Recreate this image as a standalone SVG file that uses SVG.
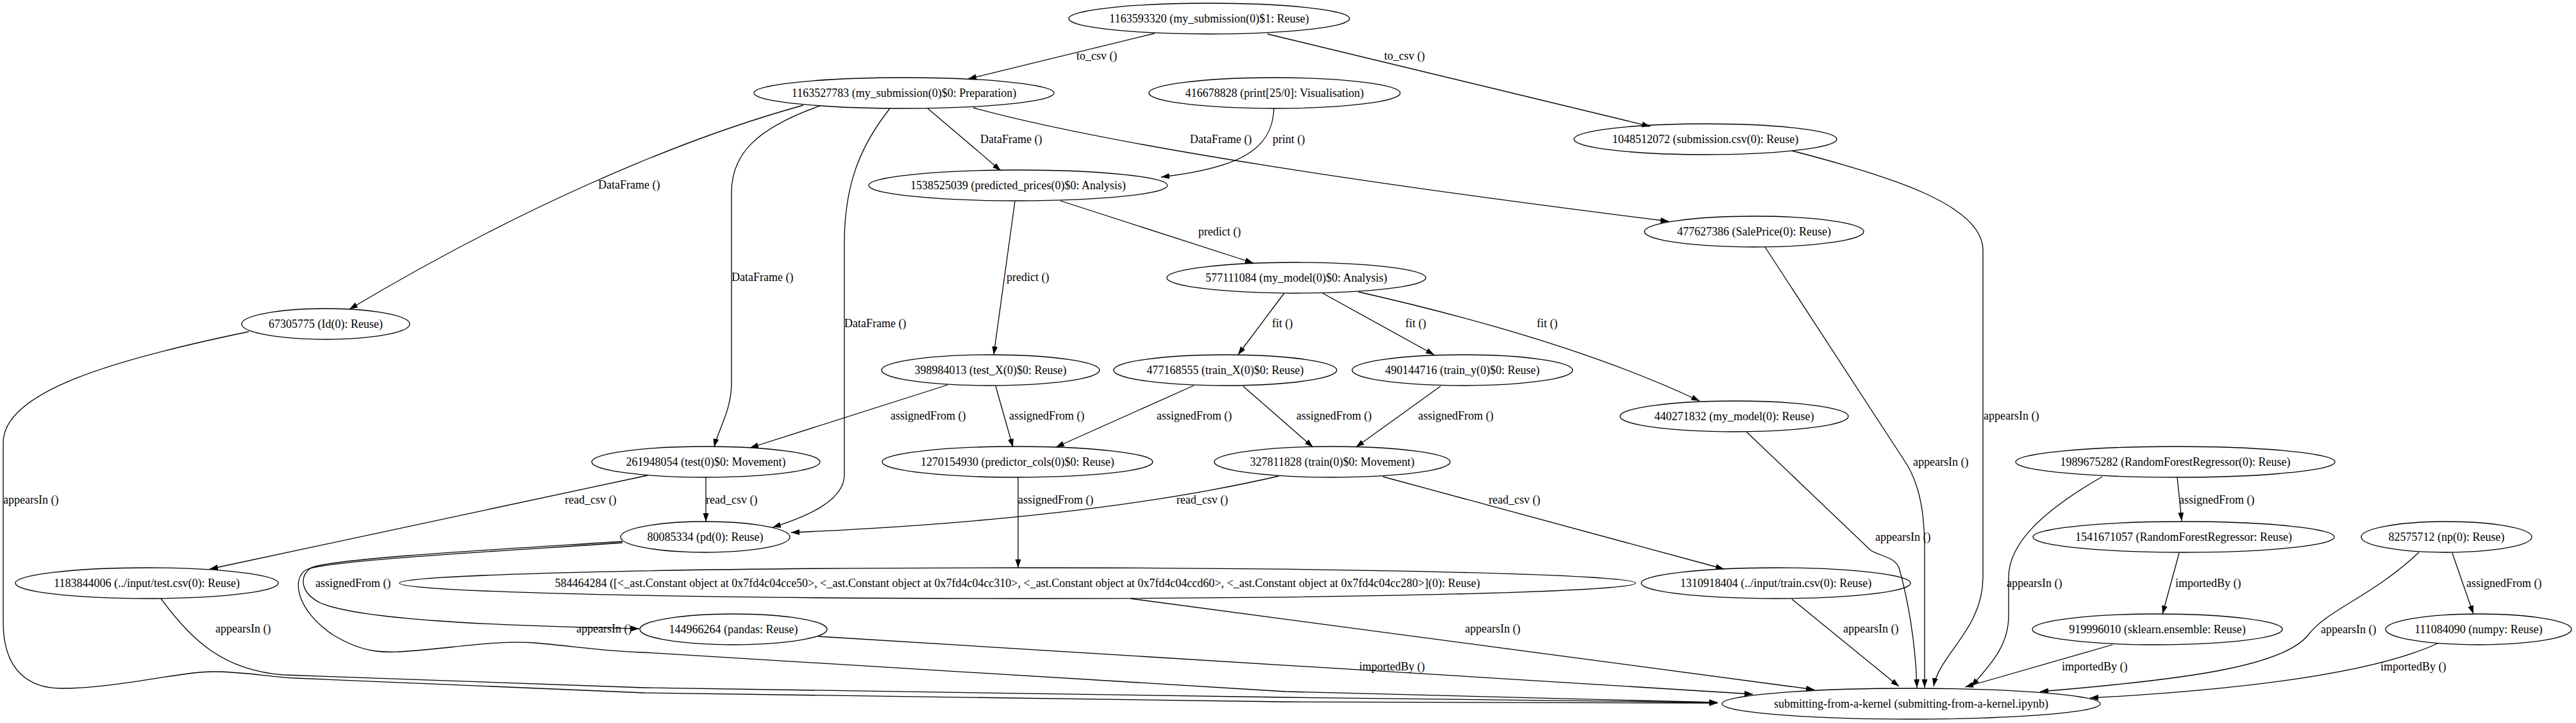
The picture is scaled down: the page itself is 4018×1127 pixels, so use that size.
<svg xmlns="http://www.w3.org/2000/svg" width="4018" height="1127" viewBox="0 0 4018 1127">
<style>
text{font-family:"Liberation Serif","Times New Roman",serif;font-size:18px;fill:#000}
.n ellipse{fill:none;stroke:#000;stroke-width:1.3}
.n text{text-anchor:middle}
.e path{fill:none;stroke:#000;stroke-width:1.3;marker-end:url(#a)}
</style>
<defs>
<marker id="a" markerWidth="13" markerHeight="10" refX="13" refY="5" orient="auto" markerUnits="userSpaceOnUse"><path d="M0,0.5 L13,5 L0,9.5 z" fill="#000"/></marker>
</defs>
<rect width="4018" height="1127" fill="#fff"/>
<g id="connectors" class="e">
<path d="M1801,52 L1510,123"/>
<path d="M1977,53 L2574,197"/>
<path d="M1253,164 C1050,220 800,330 545,482"/>
<path d="M1279,165 C1180,200 1141,240 1141,300 L1141,597 C1141,640 1120,670 1114,697"/>
<path d="M1388,169 C1340,230 1317,290 1317,380 L1317,740 C1317,780 1260,805 1205,822"/>
<path d="M1447,169 L1561,266"/>
<path d="M1518,168 Q1800,245 2603,345"/>
<path d="M1987,169 C1985,235 1930,262 1811,276"/>
<path d="M2795,235 C2950,275 3093,320 3093,390 L3093,900 C3093,980 3025,1020 3016,1070"/>
<path d="M1583,314 L1550,553"/>
<path d="M1654,313 L1955,410"/>
<path d="M2753,385 L2975,725 C2995,760 3002,800 3002,860 L3002,1072"/>
<path d="M2003,457 L1931,553"/>
<path d="M2063,457 L2237,553"/>
<path d="M2119,455 Q2450,530 2651,625"/>
<path d="M388,517 C180,560 5,610 5,690 L5,970 C5,1050 50,1073 96,1073 C180,1073 280,1047 333,1047 C380,1047 420,1055 460,1057 L1005,1080 L2005,1094 L2679,1096"/>
<path d="M1478,600 L1170,698"/>
<path d="M1553,602 L1580,697"/>
<path d="M1862,601 L1647,697"/>
<path d="M1939,602 L2048,697"/>
<path d="M2247,602 L2115,697"/>
<path d="M2724,673 L2918,858 C2935,868 2955,868 2962,885 C2975,930 2988,1000 2990,1072"/>
<path d="M1010,741 L327,887"/>
<path d="M1101,744 L1101,813"/>
<path d="M1588,744 L1588,885"/>
<path d="M1995,742 Q1700,810 1234,830"/>
<path d="M2157,743 L2689,887"/>
<path d="M3396,744 L3403,812"/>
<path d="M3279,743 C3180,800 3133,850 3133,900 L3133,960 C3133,1010 3100,1040 3075,1070"/>
<path d="M971,844 C800,855 520,870 485,885 C465,900 470,925 500,940 C560,965 750,975 997,980"/>
<path d="M971,846 C800,858 510,873 478,888 C455,900 460,950 520,990 C570,1020 600,1018 650,1014 C720,1008 780,998 833,1002 C900,1008 950,1016 1005,1017 L2005,1078 L2679,1095"/>
<path d="M251,933 C300,1000 350,1045 442,1052 L1005,1072 L2005,1087 L2679,1095"/>
<path d="M1763,933 L2830,1075"/>
<path d="M2795,934 L2962,1070"/>
<path d="M3399,862 L3373,957"/>
<path d="M3825,862 L3858,957"/>
<path d="M3773,861 C3700,930 3630,950 3600,990 C3560,1040 3400,1060 3182,1078"/>
<path d="M1276,992 L2734,1082"/>
<path d="M3295,1005 L3065,1071"/>
<path d="M3802,1003 C3700,1050 3500,1075 3260,1088"/>
</g>
<g id="edge-labels">
<text x="1679" y="93">to_csv ()</text>
<text x="2159" y="93">to_csv ()</text>
<text x="933" y="294">DataFrame ()</text>
<text x="1141" y="438">DataFrame ()</text>
<text x="1317" y="510">DataFrame ()</text>
<text x="1529" y="223">DataFrame ()</text>
<text x="1856" y="223">DataFrame ()</text>
<text x="1985" y="223">print ()</text>
<text x="3094" y="654">appearsIn ()</text>
<text x="1570" y="438">predict ()</text>
<text x="1869" y="367">predict ()</text>
<text x="2984" y="726">appearsIn ()</text>
<text x="1984" y="510">fit ()</text>
<text x="2192" y="510">fit ()</text>
<text x="2397" y="510">fit ()</text>
<text x="5" y="785">appearsIn ()</text>
<text x="1389" y="654">assignedFrom ()</text>
<text x="1574" y="654">assignedFrom ()</text>
<text x="1804" y="654">assignedFrom ()</text>
<text x="2022" y="654">assignedFrom ()</text>
<text x="2212" y="654">assignedFrom ()</text>
<text x="2925" y="843">appearsIn ()</text>
<text x="881" y="785">read_csv ()</text>
<text x="1101" y="785">read_csv ()</text>
<text x="1588" y="785">assignedFrom ()</text>
<text x="1835" y="785">read_csv ()</text>
<text x="2322" y="785">read_csv ()</text>
<text x="3399" y="785">assignedFrom ()</text>
<text x="3130" y="915">appearsIn ()</text>
<text x="492" y="915">assignedFrom ()</text>
<text x="899" y="986">appearsIn ()</text>
<text x="336" y="986">appearsIn ()</text>
<text x="2285" y="986">appearsIn ()</text>
<text x="2875" y="986">appearsIn ()</text>
<text x="3393" y="915">importedBy ()</text>
<text x="3847" y="915">assignedFrom ()</text>
<text x="3620" y="987">appearsIn ()</text>
<text x="2120" y="1045">importedBy ()</text>
<text x="3216" y="1045">importedBy ()</text>
<text x="3713" y="1045">importedBy ()</text>
</g>
<g id="n1" class="n"><ellipse cx="1886" cy="29" rx="219" ry="24"/><text x="1886" y="35">1163593320 (my_submission(0)$1: Reuse)</text></g>
<g id="n2" class="n"><ellipse cx="1410" cy="145" rx="234" ry="24"/><text x="1410" y="151">1163527783 (my_submission(0)$0: Preparation)</text></g>
<g id="n3" class="n"><ellipse cx="1988" cy="145" rx="196" ry="24"/><text x="1988" y="151">416678828 (print[25/0]: Visualisation)</text></g>
<g id="n4" class="n"><ellipse cx="2660" cy="217" rx="205" ry="24"/><text x="2660" y="223">1048512072 (submission.csv(0): Reuse)</text></g>
<g id="n5" class="n"><ellipse cx="1588" cy="289" rx="233" ry="24"/><text x="1588" y="295">1538525039 (predicted_prices(0)$0: Analysis)</text></g>
<g id="n6" class="n"><ellipse cx="2736" cy="361" rx="171" ry="24"/><text x="2736" y="367">477627386 (SalePrice(0): Reuse)</text></g>
<g id="n7" class="n"><ellipse cx="2022" cy="433" rx="202" ry="24"/><text x="2022" y="439">577111084 (my_model(0)$0: Analysis)</text></g>
<g id="n8" class="n"><ellipse cx="508" cy="505" rx="131" ry="24"/><text x="508" y="511">67305775 (Id(0): Reuse)</text></g>
<g id="n9" class="n"><ellipse cx="1545" cy="577" rx="170" ry="24"/><text x="1545" y="583">398984013 (test_X(0)$0: Reuse)</text></g>
<g id="n10" class="n"><ellipse cx="1911" cy="577" rx="174" ry="24"/><text x="1911" y="583">477168555 (train_X(0)$0: Reuse)</text></g>
<g id="n11" class="n"><ellipse cx="2281" cy="577" rx="172" ry="24"/><text x="2281" y="583">490144716 (train_y(0)$0: Reuse)</text></g>
<g id="n12" class="n"><ellipse cx="2705" cy="649" rx="178" ry="24"/><text x="2705" y="655">440271832 (my_model(0): Reuse)</text></g>
<g id="n13" class="n"><ellipse cx="1101" cy="720" rx="178" ry="24"/><text x="1101" y="726">261948054 (test(0)$0: Movement)</text></g>
<g id="n14" class="n"><ellipse cx="1587" cy="720" rx="211" ry="24"/><text x="1587" y="726">1270154930 (predictor_cols(0)$0: Reuse)</text></g>
<g id="n15" class="n"><ellipse cx="2078" cy="720" rx="184" ry="24"/><text x="2078" y="726">327811828 (train(0)$0: Movement)</text></g>
<g id="n16" class="n"><ellipse cx="3393" cy="720" rx="249" ry="24"/><text x="3393" y="726">1989675282 (RandomForestRegressor(0): Reuse)</text></g>
<g id="n17" class="n"><ellipse cx="1100" cy="837" rx="132" ry="24"/><text x="1100" y="843">80085334 (pd(0): Reuse)</text></g>
<g id="n18" class="n"><ellipse cx="229" cy="909" rx="205" ry="24"/><text x="229" y="915">1183844006 (../input/test.csv(0): Reuse)</text></g>
<g id="n19" class="n"><ellipse cx="1587" cy="909" rx="964" ry="24"/><text x="1587" y="915">584464284 ([&lt;_ast.Constant object at 0x7fd4c04cce50&gt;, &lt;_ast.Constant object at 0x7fd4c04cc310&gt;, &lt;_ast.Constant object at 0x7fd4c04ccd60&gt;, &lt;_ast.Constant object at 0x7fd4c04cc280&gt;](0): Reuse)</text></g>
<g id="n20" class="n"><ellipse cx="2770" cy="909" rx="210" ry="24"/><text x="2770" y="915">1310918404 (../input/train.csv(0): Reuse)</text></g>
<g id="n21" class="n"><ellipse cx="3406" cy="837" rx="235" ry="24"/><text x="3406" y="843">1541671057 (RandomForestRegressor: Reuse)</text></g>
<g id="n22" class="n"><ellipse cx="3816" cy="837" rx="133" ry="24"/><text x="3816" y="843">82575712 (np(0): Reuse)</text></g>
<g id="n23" class="n"><ellipse cx="1144" cy="981" rx="146" ry="24"/><text x="1144" y="987">144966264 (pandas: Reuse)</text></g>
<g id="n24" class="n"><ellipse cx="3365" cy="981" rx="195" ry="24"/><text x="3365" y="987">919996010 (sklearn.ensemble: Reuse)</text></g>
<g id="n25" class="n"><ellipse cx="3866" cy="981" rx="145" ry="24"/><text x="3866" y="987">111084090 (numpy: Reuse)</text></g>
<g id="n26" class="n"><ellipse cx="2981" cy="1097" rx="295" ry="24"/><text x="2981" y="1103">submitting-from-a-kernel (submitting-from-a-kernel.ipynb)</text></g>
</svg>
